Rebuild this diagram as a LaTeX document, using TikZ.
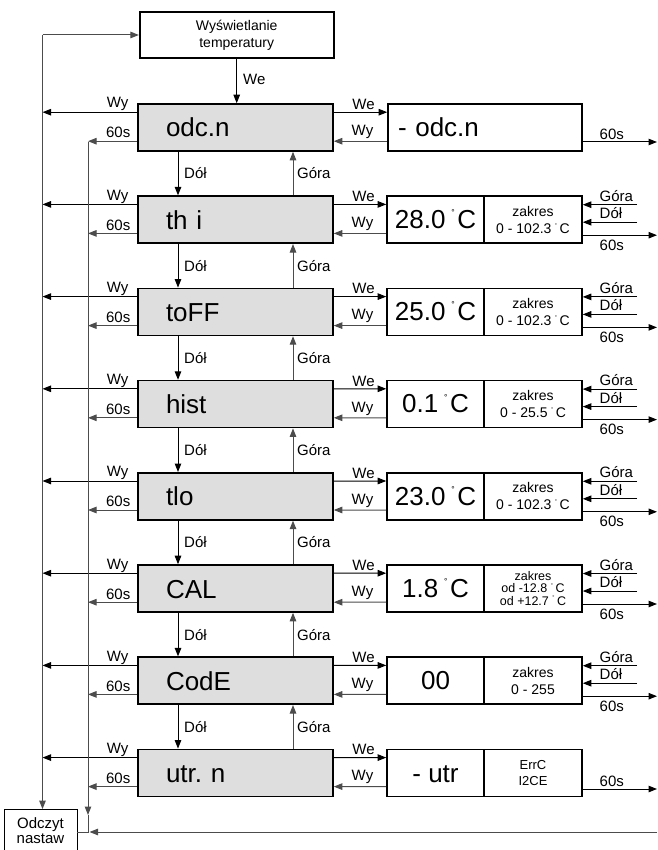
\documentclass[tikz,border=0pt]{standalone}
\usepackage{fontspec}
\setmainfont{Liberation Sans}
\usetikzlibrary{arrows.meta}
\newcommand\bigdeg{\raisebox{12.8pt}{\fontsize{8.5}{8.5}\selectfont °}}
\newcommand\smdeg{\raisebox{5.8pt}{\fontsize{5.5}{5.5}\selectfont °}}
\newcommand\bv[1]{#1\hspace{6pt}\bigdeg\hspace{2.5pt}C}
\newcommand\sv[1]{#1\hspace{3.5pt}\smdeg\hspace{2.5pt}C}
\begin{document}
\begin{tikzpicture}[x=1pt,y=-1pt,
  ln/.style={line width=1pt, draw=black},
  lg/.style={line width=1pt, draw=black!70},
  arr/.style={-{Triangle[length=8.5pt,width=6.5pt]}},
  gbox/.style={draw, line width=1.6pt, fill=black!13, minimum width=195pt, minimum height=47pt,
    inner ysep=0pt, inner xsep=28pt, text width=139pt, align=left,
    text height=19pt, text depth=0pt, font=\fontsize{26}{26}\selectfont},
  vbox/.style={draw, line width=1.6pt, minimum width=97pt, minimum height=47pt, inner sep=0pt,
    text height=17.5pt, text depth=0pt, font=\fontsize{26}{26}\selectfont},
  rbox/.style={draw, line width=1.6pt, minimum width=98pt, minimum height=47pt, inner sep=0pt,
    align=center, font=\fontsize{14}{16.7}\selectfont},
  lab/.style={inner sep=0pt, font=\fontsize{15}{15}\selectfont},
]
\useasboundingbox (0,0) rectangle (657,850);

% top and bottom boxes
\node[draw, line width=1.6pt, minimum width=194pt, minimum height=46pt, align=center,
  font=\fontsize{14}{17}\selectfont] (top) at (236.7,35) {Wyświetlanie\\temperatury};
\node[draw, line width=0.8pt, minimum width=73pt, minimum height=42pt, inner sep=0pt, align=center,
  font=\fontsize{15}{15.5}\selectfont] (od) at (40.5,830.5) {Odczyt\\nastaw};

\coordinate (Ltop) at (42.5,35);
\coordinate (Mtop) at (88,142);
\coordinate (Mmid) at (88,815);
\coordinate (Mbot) at (88,832);
\coordinate (Bright) at (657,832);
\coordinate (Dx) at (178,0);
\coordinate (Gx) at (293,0);

% gray boxes and their left connectors
\foreach \name [count=\k from 0] in {odc.n,th i,toFF,hist,tlo,CAL,CodE,utr.\ n} {
  \pgfmathsetmacro\T{104+92.2*\k}
  \node[gbox] (g\k) at (235.5,\T+23.5) {\name};
  \draw[ln,arr] ([yshift=-9pt]g\k.north west) -- ([yshift=-9pt]g\k.north west -| Ltop);
  \draw[lg,arr] ([yshift=-38pt]g\k.north west) -- ([yshift=-38pt]g\k.north west -| Mtop);
  \node[lab,anchor=base east] (lwy\k) at (128.5,\T+4) {Wy};
  \node[lab,anchor=base east] (lsx\k) at (130.5,\T+34) {60s};
}

% right side boxes
\node[vbox, minimum width=194pt, text width=174pt, inner xsep=10pt, align=left,
  text height=19pt] (v0) at (485,127.5) {- odc.n};
\node[vbox] (v1) at (435.5,219.7) {\bv{28.0}};
\node[rbox] (r1) at (533,219.7) {zakres\\\sv{0 - 102.3}};
\node[vbox] (v2) at (435.5,311.9) {\bv{25.0}};
\node[rbox] (r2) at (533,311.9) {zakres\\\sv{0 - 102.3}};
\node[vbox] (v3) at (435.5,404.1) {\bv{0.1}};
\node[rbox] (r3) at (533,404.1) {zakres\\\sv{0 - 25.5}};
\node[vbox] (v4) at (435.5,496.3) {\bv{23.0}};
\node[rbox] (r4) at (533,496.3) {zakres\\\sv{0 - 102.3}};
\node[vbox] (v5) at (435.5,588.5) {\bv{1.8}};
\node[rbox, font=\fontsize{12.5}{12.7}\selectfont] (r5) at (533,588.5)
  {zakres\\\sv{od -12.8}\\\sv{od +12.7}};
\node[vbox] (v6) at (435.5,680.7) {00};
\node[rbox] (r6) at (533,680.7) {zakres\\0 - 255};
\node[vbox, text height=19pt] (v7) at (435.5,772.9) {- utr};
\node[rbox, font=\fontsize{13}{16.7}\selectfont] (r7) at (533,772.9) {ErrC\\I2CE};

% middle connectors
\foreach \k in {0,...,7} {
  \pgfmathsetmacro\T{104+92.2*\k}
  \draw[ln,arr] ([yshift=-9pt]g\k.north east) -- ([yshift=-9pt]v\k.north west);
  \draw[lg,arr] ([yshift=-38pt]v\k.north west) -- ([yshift=-38pt]g\k.north east);
  \node[lab,anchor=base] (lwe\k) at (363.5,\T+5.5) {We};
  \node[lab,anchor=base] (lwm\k) at (362.5,\T+31.5) {Wy};
}

% right connectors with Góra / Dół inputs
\foreach \k in {1,...,6} {
  \pgfmathsetmacro\T{104+92.2*\k}
  \coordinate (gr\k) at (637,\T+8.5);
  \coordinate (dr\k) at (637,\T+26);
  \coordinate (sr\k) at (657,\T+39);
  \draw[ln,arr] (gr\k) -- (gr\k -| r\k.east);
  \draw[ln,arr] (dr\k) -- (dr\k -| r\k.east);
  \draw[ln,arr] (sr\k -| r\k.east) -- (sr\k);
  \node[lab,anchor=base west] (rg\k) at (599.5,\T+5) {Góra};
  \node[lab,anchor=base west] (rd\k) at (599.5,\T+22.5) {Dół};
  \node[lab,anchor=base west] (rs\k) at (599.5,\T+54) {60s};
}
% rows 0 and 7: only the 60s output
\coordinate (sr0) at (657,142);
\draw[ln,arr] (sr0 -| v0.east) -- (sr0);
\node[lab,anchor=base west] (rs0) at (599.5,140) {60s};
\coordinate (sr7) at (657,789);
\draw[ln,arr] (sr7 -| r7.east) -- (sr7);
\node[lab,anchor=base west] (rs7) at (599.5,786.5) {60s};

% vertical Dół / Góra connectors between gray boxes
\foreach \k in {0,...,6} {
  \pgfmathtruncatemacro\j{\k+1}
  \pgfmathsetmacro\B{104+92.2*\k+47}
  \draw[ln,arr] (g\k.south -| Dx) -- (g\j.north -| Dx);
  \draw[lg,arr] (g\j.north -| Gx) -- (g\k.south -| Gx);
  \node[lab,anchor=base west] (ld\k) at (184,\B+28) {Dół};
  \node[lab,anchor=base west] (lg\k) at (297,\B+28) {Góra};
}

% top entry
\draw[ln,arr] (top.south) -- (top.south |- g0.north);
\node[lab,anchor=base west] (lwetop) at (243,85) {We};

% outer loops
\draw[lg,arr] (Ltop) -- (top.west);
\draw[lg,arr] (Ltop) -- (Ltop |- od.north);
\draw[lg,arr] (Mtop) -- (Mmid);
\draw[lg] (Mmid) -- (Mbot) -- (od.east |- Mbot);
\draw[lg,arr] (Bright) -- ([xshift=1.5pt]Mbot);
\end{tikzpicture}
\end{document}
